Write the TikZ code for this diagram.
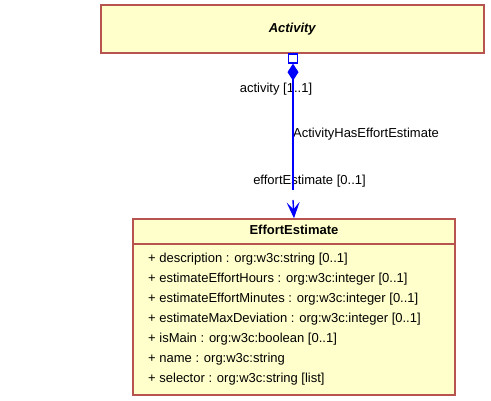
\documentclass[tikz,border=0pt]{standalone}
\usepackage{fontspec}
\setmainfont{Liberation Sans}
\usetikzlibrary{arrows.meta}
\definecolor{umlfill}{RGB}{255,255,204}
\definecolor{umlborder}{RGB}{184,84,80}
\tikzset{
  classbox/.style={draw=umlborder, fill=umlfill, line width=1.5pt, inner sep=0pt},
  assocline/.style={draw=blue, line width=1.4pt},
  aggbox/.style={draw=blue, fill=white, line width=1.3pt, minimum size=9pt, inner sep=0pt},
  rolelabel/.style={inner sep=0pt},
  attrlabel/.style={anchor=west, inner sep=0pt},
}
\begin{document}
\begin{tikzpicture}[x=1pt,y=-1pt]
            \useasboundingbox (0.000000,0.000000) rectangle (491.000000,401.000000);
            {\fontsize{13}{15}\selectfont

            % Drawing class Activity
            \node [classbox, minimum width=383pt, minimum height=48pt] (activity) at (292.500000,29.000000) {\textbf{\textit{Activity}}};%

            % Drawing class EffortEstimate
            \node [classbox, minimum width=322pt, minimum height=176pt] (effort) at (294.000000,307.000000) {};%
            \node [rolelabel] (effortname) at (294.000000,229.500000) {\textbf{EffortEstimate}};%
            \draw [umlborder, line width=1.2pt] (effort.west |- 0,244) -- (effort.east |- 0,244);%

            % Marking attributes of EffortEstimate
            \node [attrlabel] (attrdesc) at (148.000000,259.500000) {+ description : org:w3c:string [0..1]};%
            \node [attrlabel] (attrhours) at (148.000000,279.500000) {+ estimateEffortHours : org:w3c:integer [0..1]};%
            \node [attrlabel] (attrminutes) at (148.000000,299.500000) {+ estimateEffortMinutes : org:w3c:integer [0..1]};%
            \node [attrlabel] (attrdeviation) at (148.000000,319.500000) {+ estimateMaxDeviation : org:w3c:integer [0..1]};%
            \node [attrlabel] (attrmain) at (148.000000,339.500000) {+ isMain : org:w3c:boolean [0..1]};%
            \node [attrlabel] (attrname) at (148.000000,359.500000) {+ name : org:w3c:string};%
            \node [attrlabel] (attrselector) at (148.000000,379.500000) {+ selector : org:w3c:string [list]};%

            % Marking roles of association
            \node [rolelabel] (roleactivity) at (276.000000,89.000000) {activity [1..1]};%
            \node [rolelabel, anchor=west] (assocname) at (293.000000,134.000000) {ActivityHasEffortEstimate};%
            \node [rolelabel] (roleeffort) at (309.500000,181.000000) {effortEstimate [0..1]};%

            % Drawing association Activity -> EffortEstimate
            \node [aggbox] (aggend) at (293.000000,58.500000) {};%
            \coordinate (lineend) at (293.000000,190.000000);%
            \coordinate (arrowstart) at (293.000000,200.000000);%
            \draw [assocline, {Diamond[length=17pt,width=11pt]}-] (aggend.south) -- (lineend);%
            \draw [assocline, -{Stealth[length=16pt,width=13pt,inset=7pt]}] (arrowstart) -- (effort.north);%
            }
\end{tikzpicture}
\end{document}
